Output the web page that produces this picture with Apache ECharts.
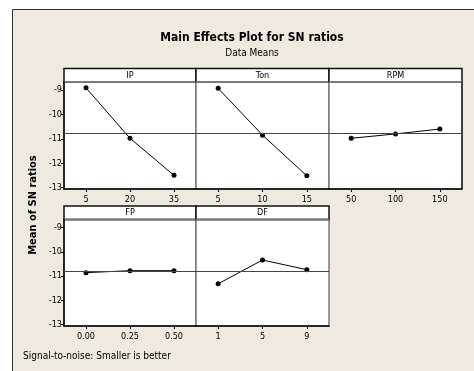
<!DOCTYPE html>
<html>
<head>
<meta charset="utf-8">
<script src="https://cdn.jsdelivr.net/npm/echarts@6/dist/echarts.min.js"></script>
<style>
  html, body { margin: 0; padding: 0; background: #fff; }
  #chart { width: 474px; height: 371px; }
</style>
</head>
<body>
<div id="chart"></div>
<script>
// factor names and levels
const factors = ['IP', 'Ton', 'RPM', 'FP', 'DF'];
const ipLevels = ['5', '20', '35'];
const tonLevels = ['5', '10', '15'];
const rpmLevels = ['50', '100', '150'];
const fpLevels = ['0.00', '0.25', '0.50'];
const dfLevels = ['1', '5', '9'];

// mean SN ratio per level
const ipSN = [-8.91, -10.98, -12.50];
const tonSN = [-8.93, -10.85, -12.52];
const rpmSN = [-10.98, -10.80, -10.60];
const fpSN = [-10.86, -10.78, -10.78];
const dfSN = [-11.32, -10.34, -10.74];

const yTicks = [-13, -12, -11, -10, -9];

const levels = [ipLevels, tonLevels, rpmLevels, fpLevels, dfLevels];
const values = [ipSN, tonSN, rpmSN, fpSN, dfSN];

let all = [].concat(ipSN, tonSN, rpmSN, fpSN, dfSN);
const grandMean = all.reduce((a, b) => a + b, 0) / all.length;

const FONT = '"DejaVu Sans Condensed", "DejaVu Sans", sans-serif';

// panel boxes [left, top, width, height]
const panels = [
  [64, 82, 132, 107],
  [196, 82, 133, 107],
  [329, 82, 133, 107],
  [64, 219.5, 132, 106.5],
  [196, 219.5, 133, 106.5]
];
const stripH = 13.5;

let chartDom = document.getElementById('chart');
let myChart = echarts.init(chartDom);

let grids = [], xAxes = [], yAxes = [], series = [], graphics = [];

// frame
graphics.push({
  type: 'rect', z: -10,
  shape: { x: 12.5, y: 9.5, width: 480, height: 380 },
  style: { fill: '#eeeae0', stroke: '#333', lineWidth: 1 }
});

panels.forEach((p, i) => {
  let leftCol = (i === 0 || i === 3);
  grids.push({
    left: p[0], top: p[1], width: p[2], height: p[3],
    show: true, backgroundColor: '#fff', borderColor: '#7a7a7a', borderWidth: 1.5
  });
  xAxes.push({
    type: 'category', gridIndex: i, data: levels[i], boundaryGap: true,
    axisLine: { show: true, lineStyle: { color: '#000', width: 1.5 } },
    axisTick: { show: true, alignWithLabel: true, length: 3, lineStyle: { color: '#000' } },
    axisLabel: { color: '#000', fontSize: 9, fontFamily: FONT, margin: 6 },
    splitLine: { show: false }
  });
  yAxes.push({
    type: 'value', gridIndex: i, min: -13.06, max: -8.67,
    axisLine: { show: leftCol, lineStyle: { color: '#000', width: 1.5 } },
    axisTick: { show: leftCol, length: 3, customValues: yTicks, lineStyle: { color: '#000' } },
    axisLabel: { show: leftCol, customValues: yTicks, color: '#000', fontSize: 9, fontFamily: FONT, margin: 2 },
    splitLine: { show: false }
  });
  series.push({
    type: 'line', xAxisIndex: i, yAxisIndex: i,
    data: values[i],
    symbol: 'circle', symbolSize: 5,
    itemStyle: { color: '#000' },
    lineStyle: { color: '#000', width: 1 },
    animation: false,
    markLine: {
      silent: true, symbol: 'none', label: { show: false },
      lineStyle: { color: '#444', width: 1, type: 'solid' },
      data: [{ yAxis: grandMean }]
    }
  });
  // strip header
  graphics.push({
    type: 'rect',
    shape: { x: p[0], y: p[1] - stripH, width: p[2], height: stripH },
    style: { fill: '#fff', stroke: '#111', lineWidth: 1.5 }
  });
  graphics.push({
    type: 'line',
    shape: { x1: p[0], y1: p[1], x2: p[0] + p[2], y2: p[1] },
    style: { stroke: '#7a7a7a', lineWidth: 2 }
  });
  graphics.push({
    type: 'text',
    x: p[0] + p[2] / 2, y: p[1] - stripH / 2,
    style: { text: factors[i], fill: '#000', font: '9px ' + FONT, align: 'center', verticalAlign: 'middle' }
  });
});

// outer right edge of the top row is dark
graphics.push({
  type: 'line',
  shape: { x1: 462, y1: 82, x2: 462, y2: 189 },
  style: { stroke: '#222', lineWidth: 1.5 }
});

graphics.push({
  type: 'text', x: 33, y: 205, rotation: Math.PI / 2,
  style: { text: 'Mean of SN ratios', fill: '#000', font: 'bold 11px ' + FONT, align: 'center', verticalAlign: 'middle' }
});
graphics.push({
  type: 'text', x: 23, y: 356,
  style: { text: 'Signal-to-noise: Smaller is better', fill: '#000', font: '10px ' + FONT, align: 'left', verticalAlign: 'middle' }
});

let option = {
  backgroundColor: '#fff',
  animation: false,
  title: {
    text: 'Main Effects Plot for SN ratios',
    subtext: 'Data Means',
    left: 247, top: 27, textAlign: 'center', itemGap: 4,
    textStyle: { fontSize: 12, fontWeight: 'bold', color: '#000', fontFamily: FONT },
    subtextStyle: { fontSize: 10, color: '#000', fontFamily: FONT }
  },
  grid: grids,
  xAxis: xAxes,
  yAxis: yAxes,
  series: series,
  graphic: graphics
};

option && myChart.setOption(option);
</script>
</body>
</html>
